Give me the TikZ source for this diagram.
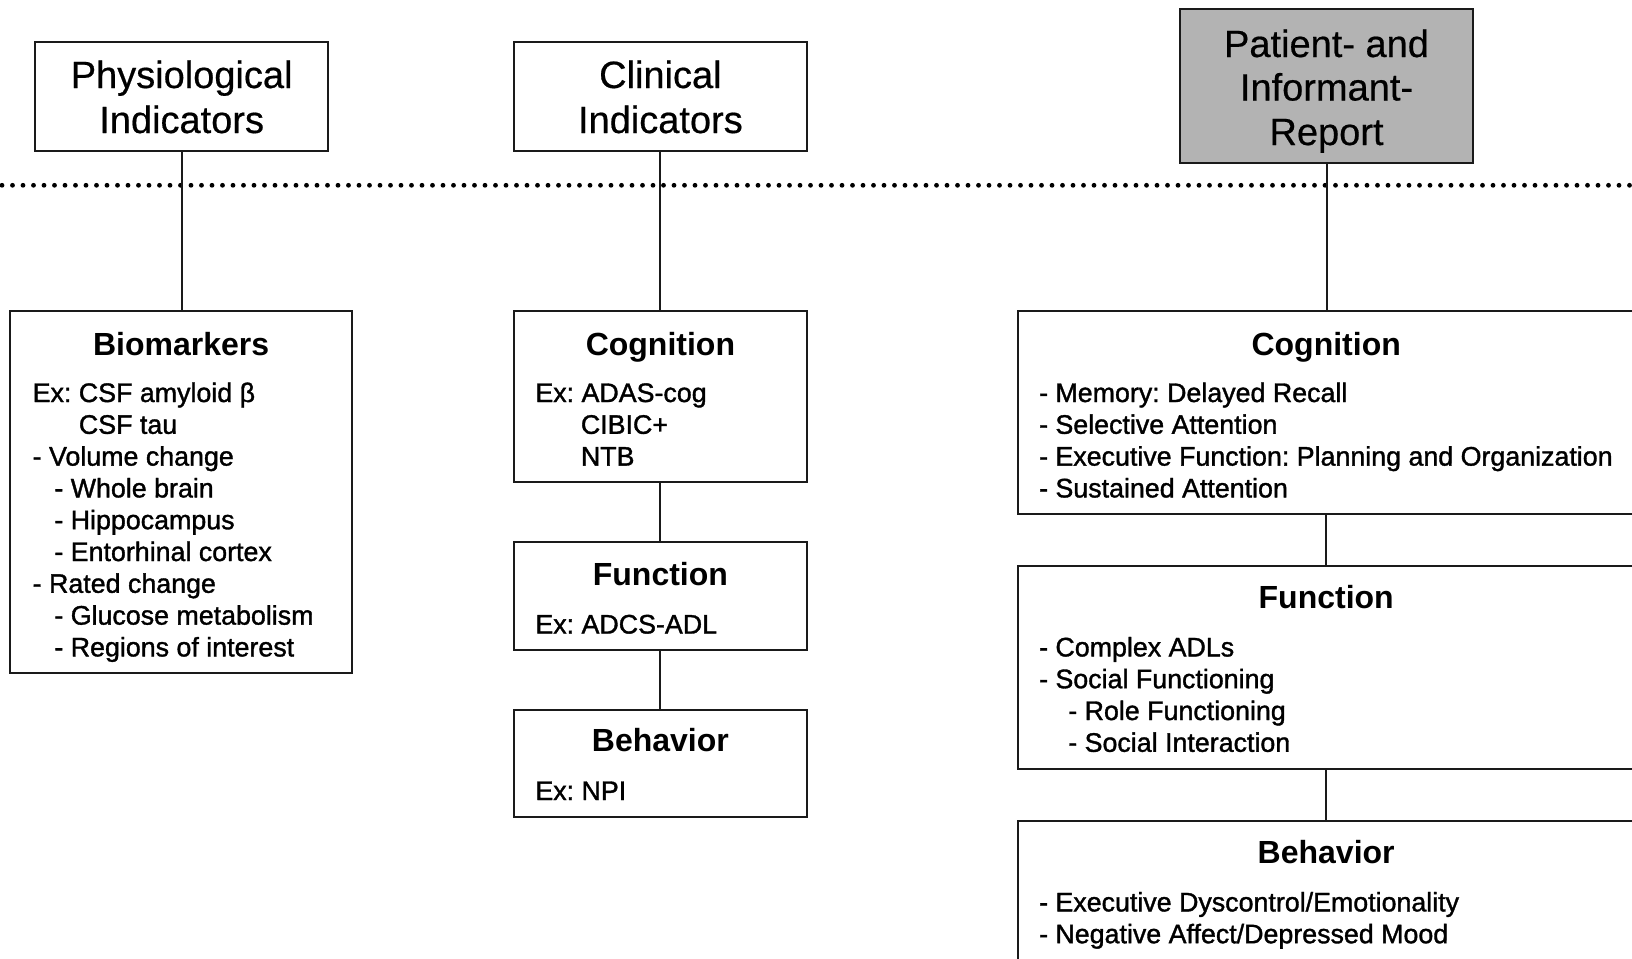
\documentclass[tikz,border=0pt]{standalone}
\usepackage{fontspec}
\setmainfont{Liberation Sans}
\newfontfamily\bodyfam{Liberation Sans}[FakeBold=1.3]
\newfontfamily\titlefam{Liberation Sans}[FakeBold=0.5]
\definecolor{boxgray}{HTML}{B3B3B3}
\definecolor{ink}{HTML}{1A1A1A}
\frenchspacing
\tikzset{
  box/.style={draw=ink, line width=1pt, rectangle, inner sep=0pt},
  titletext/.style={inner sep=0pt, anchor=base, font=\fontsize{19}{22}\titlefam},
  headtext/.style={inner sep=0pt, anchor=base, font=\fontsize{16}{19}\selectfont\bfseries},
  bodytext/.style={inner sep=0pt, anchor=base west, font=\fontsize{13.4}{16}\bodyfam},
  link/.style={draw=ink, line width=1pt},
  dotline/.style={draw=black, line width=2.4pt, line cap=round, dash pattern=on 0pt off 5.25pt}
}
\begin{document}
\frenchspacing
\begin{tikzpicture}[x=0.5pt,y=-0.5pt]
\useasboundingbox (0,0) rectangle (1632,958);
% dotted separator
\coordinate (dl) at (2,185.3);
\coordinate (dr) at (1632,185.3);
\draw[dotline] (dl) -- (dr);
% top boxes
\node[box, minimum width=146.25pt, minimum height=54.65pt] (phys) at (181.65,96.25) {};
\node[box, minimum width=146.2pt, minimum height=54.65pt] (clin) at (660.4,96.25) {};
\node[box, fill=boxgray, minimum width=146.2pt, minimum height=77pt] (pat) at (1326.5,86.4) {};
% lower boxes
\node[box, minimum width=170.7pt, minimum height=181.1pt] (bio) at (181.1,492.3) {};
\node[box, minimum width=146.2pt, minimum height=85.35pt] (ccog) at (660.4,396.55) {};
\node[box, minimum width=146.2pt, minimum height=53.6pt] (cfun) at (660.4,595.9) {};
\node[box, minimum width=146.2pt, minimum height=53.6pt] (cbeh) at (660.4,763.4) {};
\node[box, minimum width=308.3pt, minimum height=101.5pt] (rcog) at (1326.2,412.7) {};
\node[box, minimum width=308.3pt, minimum height=101.5pt] (rfun) at (1326.2,667.7) {};
\node[box, minimum width=308.3pt, minimum height=101.5pt] (rbeh) at (1326.2,922.7) {};
% connectors
\draw[link] (phys.south) -- (phys.south |- bio.north);
\draw[link] (clin.south) -- (ccog.north);
\draw[link] (ccog.south) -- (cfun.north);
\draw[link] (cfun.south) -- (cbeh.north);
\draw[link] (pat.south) -- (pat.south |- rcog.north);
\draw[link] (rcog.south) -- (rfun.north);
\draw[link] (rfun.south) -- (rbeh.north);
% titles
\node[titletext] (t1a) at (181.65,88) {Physiological};
\node[titletext] (t1b) at (181.65,133) {Indicators};
\node[titletext] (t2a) at (660.4,88) {Clinical};
\node[titletext] (t2b) at (660.4,133) {Indicators};
\node[titletext] (t3a) at (1326.5,57) {Patient- and};
\node[titletext] (t3b) at (1326.5,100.5) {Informant-};
\node[titletext] (t3c) at (1326.5,145) {Report};
% headings
\node[headtext] (hbio) at (181.1,355) {Biomarkers};
\node[headtext] (hccog) at (660.4,355) {Cognition};
\node[headtext] (hcfun) at (660.4,585) {Function};
\node[headtext] (hcbeh) at (660.4,751.5) {Behavior};
\node[headtext] (hrcog) at (1326.2,355) {Cognition};
\node[headtext] (hrfun) at (1326.2,608) {Function};
\node[headtext] (hrbeh) at (1326.2,863) {Behavior};
% biomarkers body
\node[bodytext] (b1) at (32.3,402) {Ex: CSF amyloid β};
\node[bodytext] (b2) at (78.5,433.8) {CSF tau};
\node[bodytext] (b3) at (32.3,465.6) {- Volume change};
\node[bodytext] (b4) at (54,497.4) {- Whole brain};
\node[bodytext] (b5) at (54,529.2) {- Hippocampus};
\node[bodytext] (b6) at (54,561) {- Entorhinal cortex};
\node[bodytext] (b7) at (32.3,592.8) {- Rated change};
\node[bodytext] (b8) at (54,624.6) {- Glucose metabolism};
\node[bodytext] (b9) at (54,656.4) {- Regions of interest};
% clinical body
\node[bodytext] (c1) at (535,402) {Ex: ADAS-cog};
\node[bodytext] (c2) at (580.5,433.8) {CIBIC+};
\node[bodytext] (c3) at (580.5,465.6) {NTB};
\node[bodytext] (c4) at (535,633.5) {Ex: ADCS-ADL};
\node[bodytext] (c5) at (535,800) {Ex: NPI};
% right body
\node[bodytext] (r1) at (1038.7,402) {- Memory: Delayed Recall};
\node[bodytext] (r2) at (1038.7,433.8) {- Selective Attention};
\node[bodytext] (r3) at (1038.7,465.6) {- Executive Function: Planning and Organization};
\node[bodytext] (r4) at (1038.7,497.4) {- Sustained Attention};
\node[bodytext] (r5) at (1038.7,656.4) {- Complex ADLs};
\node[bodytext] (r6) at (1038.7,688.2) {- Social Functioning};
\node[bodytext] (r7) at (1067.9,720) {- Role Functioning};
\node[bodytext] (r8) at (1067.9,751.8) {- Social Interaction};
\node[bodytext] (r9) at (1038.7,911.4) {- Executive Dyscontrol/Emotionality};
\node[bodytext] (r10) at (1038.7,943.2) {- Negative Affect/Depressed Mood};
\end{tikzpicture}
\end{document}
